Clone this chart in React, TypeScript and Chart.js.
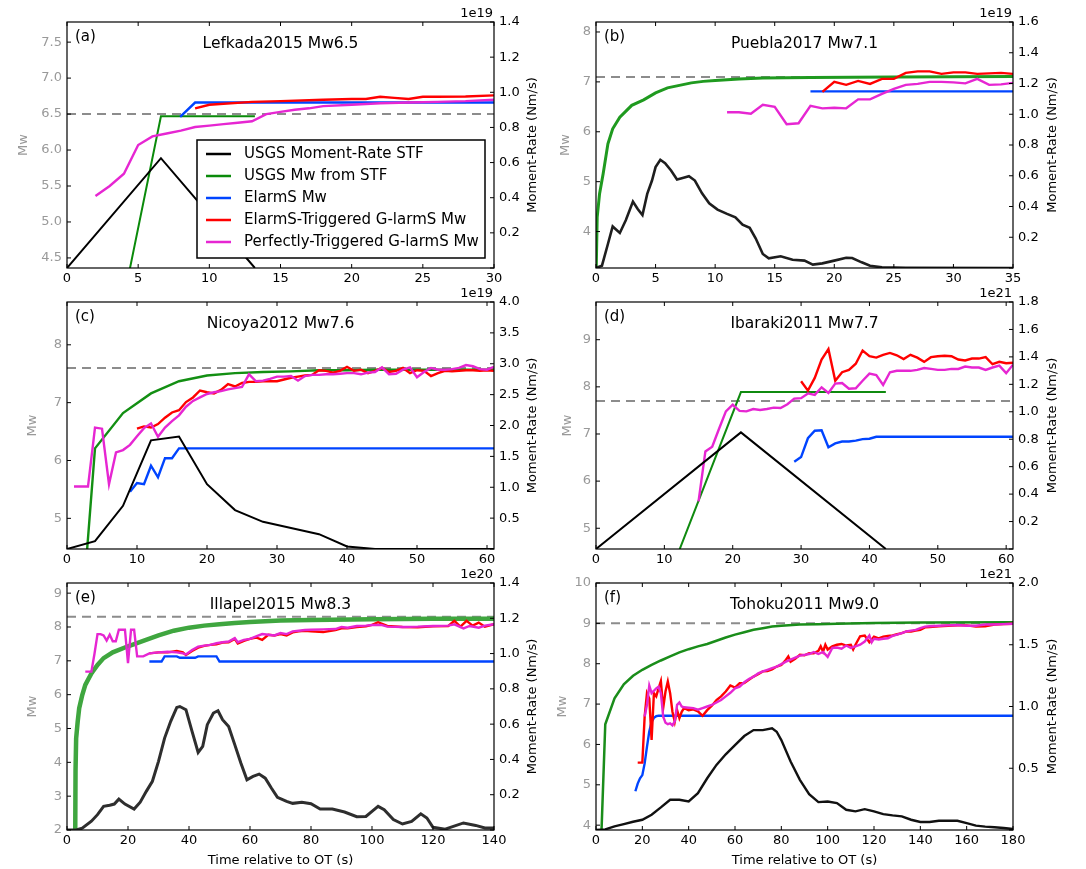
import React, { useEffect, useRef } from 'react';
import { Chart, registerables } from 'chart.js';
Chart.register(...registerables);

type Pt = [number, number];

const FONT = "'DejaVu Sans', 'Liberation Sans', sans-serif";

// ---------- labels ----------
const LEGEND_LABELS = [
  'USGS Moment-Rate STF',
  'USGS Mw from STF',
  'ElarmS Mw',
  'ElarmS-Triggered G-larmS Mw',
  'Perfectly-Triggered G-larmS Mw',
];
const TITLES = ['Lefkada2015 Mw6.5', 'Puebla2017 Mw7.1', 'Nicoya2012 Mw7.6', 'Ibaraki2011 Mw7.7', 'Illapel2015 Mw8.3', 'Tohoku2011 Mw9.0'];
const TAGS = ['(a)', '(b)', '(c)', '(d)', '(e)', '(f)'];
const EXPONENTS = ['1e19', '1e19', '1e19', '1e21', '1e20', '1e21'];
const REF_MW = [6.5, 7.1, 7.6, 7.7, 8.3, 9.0];
const X_MAX = [30, 35, 61, 61, 140, 180];
const X_STEP = [5, 5, 10, 10, 20, 20];
const MW_MIN = [4.36, 3.27, 4.47, 4.56, 2, 3.88];
const MW_MAX = [7.78, 8.2, 8.74, 9.8, 9.3, 10];
const MW_STEP = [0.5, 1, 1, 1, 1, 1];
const MW_DEC = [1, 0, 0, 0, 0, 0];
const RATE_MAX = [1.4, 1.6, 4.0, 1.8, 1.4, 2.0];
const RATE_STEP = [0.2, 0.2, 0.5, 0.2, 0.2, 0.5];

// ---------- (a) Lefkada ----------
const A_STF: Pt[] = [[0, 0], [6.6, 0.625], [13.2, 0]];
const A_USGS: Pt[] = [[0, 0.06], [6.6, 6.47], [13.2, 6.47]];
const A_ELARMS: Pt[] = [[7.95, 6.46], [9, 6.66], [30, 6.66]];
const A_GTRIG: Pt[] = [[9, 6.58], [10, 6.63], [13, 6.67], [15, 6.68], [18, 6.7], [20, 6.71], [21, 6.71], [22, 6.74], [23, 6.725], [24, 6.71], [25, 6.74], [26, 6.74], [28, 6.745], [30, 6.76]];
const A_GPERF: Pt[] = [[2, 5.36], [3, 5.5], [4, 5.67], [5, 6.07], [6, 6.19], [7, 6.23], [8, 6.27], [9, 6.32], [10, 6.34], [11, 6.36], [12, 6.38], [13, 6.4], [14, 6.5], [15, 6.53], [16, 6.56], [17, 6.58], [18, 6.61], [20, 6.63], [22, 6.65], [24, 6.66], [26, 6.67], [28, 6.68], [30, 6.7]];

// ---------- (b) Puebla ----------
const B_STF: Pt[] = [[0, 0], [0.5, 0.015], [1, 0.156], [1.4, 0.27], [2, 0.228], [2.5, 0.31], [3.1, 0.432], [3.5, 0.384], [3.9, 0.345], [4.3, 0.482], [4.7, 0.569], [5, 0.656], [5.4, 0.704], [5.8, 0.682], [6.3, 0.634], [6.8, 0.576], [7.2, 0.584], [7.8, 0.597], [8.3, 0.569], [8.9, 0.486], [9.5, 0.421], [10.2, 0.38], [11, 0.352], [11.7, 0.33], [12.3, 0.282], [12.9, 0.261], [13.4, 0.193], [14, 0.091], [14.5, 0.063], [15.5, 0.076], [16.5, 0.054], [17.5, 0.048], [18.2, 0.022], [19, 0.03], [20, 0.048], [21, 0.067], [21.5, 0.065], [22.3, 0.037], [23, 0.015], [24, 0.004], [26, 0.002], [35, 0]];
const B_USGS: Pt[] = [[0, 3.0], [0.1, 4.29], [0.3, 4.76], [0.6, 5.16], [1, 5.76], [1.4, 6.06], [2, 6.29], [3, 6.53], [4, 6.64], [5, 6.78], [6, 6.88], [7, 6.93], [8, 6.98], [9, 7.01], [10, 7.03], [12, 7.06], [14, 7.08], [18, 7.09], [25, 7.1], [35, 7.11]];
const B_ELARMS: Pt[] = [[18, 6.81], [35, 6.81]];
const B_GTRIG: Pt[] = [[19, 6.8], [20, 7.0], [21, 6.94], [22, 7.02], [23, 6.96], [24, 7.06], [25, 7.06], [26, 7.18], [27, 7.21], [28, 7.21], [29, 7.16], [30, 7.19], [31, 7.19], [32, 7.16], [33, 7.17], [34, 7.18], [35, 7.16]];
const B_GPERF: Pt[] = [[11, 6.39], [12, 6.39], [13, 6.36], [14, 6.54], [15, 6.5], [16, 6.15], [17, 6.17], [18, 6.52], [19, 6.47], [20, 6.48], [21, 6.47], [22, 6.65], [23, 6.65], [24, 6.76], [25, 6.86], [26, 6.94], [27, 6.96], [28, 7.0], [29, 7.0], [30, 6.99], [31, 6.97], [32, 7.06], [33, 6.94], [34, 6.95], [35, 6.98]];

// ---------- (c) Nicoya ----------
const C_STF: Pt[] = [[0, 0], [4, 0.126], [8, 0.7], [12, 1.76], [16, 1.82], [20, 1.05], [24, 0.63], [28, 0.44], [32, 0.34], [36, 0.24], [40, 0.04], [44, 0], [61, 0]];
const C_USGS: Pt[] = [[0, 0], [4, 6.21], [8, 6.82], [12, 7.16], [16, 7.37], [20, 7.47], [24, 7.51], [28, 7.53], [32, 7.54], [36, 7.56], [40, 7.56], [44, 7.57], [61, 7.57]];
const C_ELARMS: Pt[] = [[9, 5.46], [10, 5.61], [11, 5.59], [12, 5.91], [13, 5.71], [14, 6.04], [15, 6.04], [16, 6.21], [61, 6.21]];
const C_GTRIG: Pt[] = [[10, 6.55], [11, 6.59], [12, 6.57], [13, 6.63], [14, 6.74], [15, 6.83], [16, 6.87], [17, 7.01], [18, 7.09], [19, 7.21], [20, 7.18], [21, 7.16], [22, 7.22], [23, 7.32], [24, 7.28], [25, 7.34], [26, 7.36], [27, 7.36], [28, 7.37], [29, 7.37], [30, 7.37], [31, 7.4], [32, 7.43], [33, 7.45], [34, 7.47], [35, 7.48], [36, 7.56], [37, 7.55], [38, 7.52], [39, 7.55], [40, 7.62], [41, 7.55], [42, 7.57], [43, 7.51], [44, 7.55], [45, 7.6], [46, 7.53], [47, 7.55], [48, 7.6], [49, 7.51], [50, 7.56], [51, 7.55], [52, 7.46], [53, 7.51], [54, 7.55], [55, 7.54], [56, 7.55], [57, 7.56], [58, 7.56], [59, 7.55], [60, 7.56], [61, 7.55]];
const C_GPERF: Pt[] = [[1, 5.55], [2, 5.55], [3, 5.55], [4, 6.57], [5, 6.55], [6, 5.59], [7, 6.14], [8, 6.18], [9, 6.27], [10, 6.42], [11, 6.56], [12, 6.64], [13, 6.41], [14, 6.57], [15, 6.68], [16, 6.78], [17, 6.93], [18, 7.03], [19, 7.09], [20, 7.15], [21, 7.18], [22, 7.2], [23, 7.23], [24, 7.25], [25, 7.27], [26, 7.49], [27, 7.37], [28, 7.38], [29, 7.41], [30, 7.45], [31, 7.45], [32, 7.46], [33, 7.38], [34, 7.46], [35, 7.48], [36, 7.48], [37, 7.49], [38, 7.49], [39, 7.5], [40, 7.51], [41, 7.51], [42, 7.49], [43, 7.52], [44, 7.53], [45, 7.61], [46, 7.49], [47, 7.5], [48, 7.57], [49, 7.61], [50, 7.44], [51, 7.53], [52, 7.6], [53, 7.57], [54, 7.57], [55, 7.58], [56, 7.6], [57, 7.65], [58, 7.63], [59, 7.58], [60, 7.57], [61, 7.62]];

// ---------- (d) Ibaraki ----------
const D_STF: Pt[] = [[0, 0], [21.2, 0.85], [42.4, 0]];
const D_USGS: Pt[] = [[0, 0], [21.2, 7.89], [42.4, 7.89]];
const D_ELARMS: Pt[] = [[29, 6.41], [30, 6.51], [31, 6.91], [32, 7.07], [33, 7.08], [34, 6.72], [35, 6.8], [36, 6.84], [37, 6.84], [38, 6.86], [39, 6.89], [40, 6.9], [41, 6.94], [61, 6.94]];
const D_GTRIG: Pt[] = [[30, 8.12], [31, 7.92], [32, 8.19], [33, 8.58], [34, 8.8], [35, 8.13], [36, 8.31], [37, 8.36], [38, 8.49], [39, 8.77], [40, 8.65], [41, 8.62], [42, 8.68], [43, 8.72], [44, 8.67], [45, 8.59], [46, 8.68], [47, 8.62], [48, 8.53], [49, 8.63], [50, 8.65], [51, 8.66], [52, 8.65], [53, 8.58], [54, 8.56], [55, 8.6], [56, 8.6], [57, 8.63], [58, 8.48], [59, 8.53], [60, 8.5], [61, 8.51]];
const D_GPERF: Pt[] = [[15, 5.57], [16, 6.63], [17, 6.73], [18, 7.11], [19, 7.48], [20, 7.62], [21, 7.49], [22, 7.48], [23, 7.53], [24, 7.51], [25, 7.53], [26, 7.56], [27, 7.55], [28, 7.63], [29, 7.75], [30, 7.76], [31, 7.86], [32, 7.83], [33, 7.99], [34, 7.87], [35, 8.07], [36, 8.08], [37, 7.96], [38, 7.97], [39, 8.13], [40, 8.28], [41, 8.25], [42, 8.04], [43, 8.31], [44, 8.34], [45, 8.34], [46, 8.34], [47, 8.36], [48, 8.4], [49, 8.38], [50, 8.36], [51, 8.36], [52, 8.38], [53, 8.38], [54, 8.43], [55, 8.41], [56, 8.41], [57, 8.36], [58, 8.41], [59, 8.45], [60, 8.29], [61, 8.47]];

// ---------- (e) Illapel ----------
const E_STF: Pt[] = [[0, 0], [3, 0], [5, 0.01], [8, 0.05], [10, 0.087], [12, 0.134], [14, 0.14], [15.5, 0.147], [17, 0.175], [19, 0.147], [22, 0.119], [24, 0.158], [26, 0.219], [28, 0.276], [30, 0.389], [32, 0.521], [34, 0.616], [36, 0.695], [37, 0.7], [39, 0.682], [41, 0.559], [43, 0.44], [44.5, 0.474], [46, 0.597], [48, 0.663], [49.5, 0.676], [51, 0.625], [53, 0.587], [55, 0.484], [57, 0.38], [59, 0.285], [61, 0.304], [63, 0.317], [65, 0.294], [67, 0.238], [69, 0.185], [72, 0.162], [74, 0.151], [77, 0.157], [80, 0.149], [83, 0.119], [87, 0.119], [91, 0.102], [95, 0.075], [98, 0.077], [100, 0.106], [102, 0.134], [104, 0.115], [107, 0.059], [110, 0.034], [113, 0.049], [116, 0.092], [118, 0.068], [120, 0.015], [124, 0.005], [130, 0.04], [134, 0.026], [137, 0.011], [140, 0.011]];
const E_USGS: Pt[] = [[2.6, 0], [2.8, 3.77], [3, 4.71], [3.5, 5.2], [4, 5.6], [5, 5.99], [6, 6.29], [8, 6.63], [10, 6.88], [12, 7.08], [15, 7.25], [20, 7.43], [25, 7.59], [30, 7.75], [35, 7.89], [40, 7.98], [45, 8.04], [50, 8.08], [55, 8.12], [60, 8.15], [70, 8.19], [80, 8.21], [100, 8.23], [120, 8.24], [140, 8.24]];
const E_ELARMS: Pt[] = [[27, 6.98], [31, 6.98], [32, 7.13], [36, 7.13], [37, 7.09], [42, 7.09], [43, 7.13], [49, 7.13], [50, 6.98], [140, 6.98]];
const E_GTRIG: Pt[] = [[27, 7.22], [30, 7.25], [33, 7.25], [36, 7.29], [38, 7.25], [39, 7.17], [41, 7.29], [43, 7.39], [45, 7.44], [47, 7.47], [49, 7.49], [51, 7.54], [53, 7.55], [55, 7.65], [56, 7.51], [58, 7.59], [60, 7.65], [62, 7.69], [64, 7.62], [66, 7.77], [68, 7.75], [70, 7.79], [72, 7.75], [74, 7.84], [76, 7.87], [78, 7.89], [80, 7.87], [84, 7.85], [88, 7.91], [90, 7.96], [92, 7.96], [95, 8.0], [98, 8.02], [100, 8.06], [102, 8.14], [105, 8.03], [110, 8.0], [115, 7.99], [120, 8.02], [125, 8.03], [127, 8.18], [129, 8.01], [131, 8.18], [133, 8.04], [135, 8.13], [137, 8.01], [140, 8.08]];
const E_GPERF: Pt[] = [[6, 6.68], [8, 6.68], [9, 7.2], [10, 7.79], [11, 7.79], [12, 7.75], [13, 7.6], [14, 7.77], [15, 7.58], [16, 7.58], [17, 7.92], [19, 7.92], [20, 6.93], [21, 7.92], [22, 7.92], [23, 7.13], [25, 7.13], [27, 7.22], [30, 7.25], [33, 7.27], [36, 7.25], [38, 7.22], [39, 7.19], [41, 7.32], [43, 7.42], [45, 7.45], [47, 7.47], [49, 7.52], [51, 7.55], [53, 7.57], [55, 7.67], [56, 7.55], [58, 7.62], [60, 7.65], [62, 7.72], [64, 7.79], [66, 7.77], [68, 7.75], [70, 7.82], [72, 7.79], [74, 7.87], [76, 7.89], [78, 7.91], [80, 7.92], [84, 7.93], [88, 7.94], [90, 8.0], [92, 7.98], [95, 8.03], [98, 8.04], [100, 8.06], [103, 8.06], [105, 8.01], [110, 8.0], [115, 8.01], [120, 8.03], [125, 8.04], [127, 8.08], [130, 7.96], [132, 8.03], [135, 7.98], [137, 8.04], [140, 8.08]];

// ---------- (f) Tohoku ----------
const F_STF: Pt[] = [[0, 0], [4, 0.005], [8, 0.03], [12, 0.048], [16, 0.067], [20, 0.083], [24, 0.124], [28, 0.183], [32, 0.245], [36, 0.245], [40, 0.231], [44, 0.298], [48, 0.419], [52, 0.527], [56, 0.613], [60, 0.688], [64, 0.761], [68, 0.809], [72, 0.809], [76, 0.823], [78, 0.796], [80, 0.728], [84, 0.554], [88, 0.406], [92, 0.29], [96, 0.226], [100, 0.231], [104, 0.218], [108, 0.164], [112, 0.151], [116, 0.169], [120, 0.151], [124, 0.129], [128, 0.118], [132, 0.11], [136, 0.083], [140, 0.065], [144, 0.065], [148, 0.075], [152, 0.075], [156, 0.075], [160, 0.056], [164, 0.035], [168, 0.027], [172, 0.022], [176, 0.016], [180, 0.008]];
const F_USGS: Pt[] = [[0, 0], [4, 6.5], [8, 7.14], [12, 7.49], [16, 7.7], [20, 7.85], [24, 7.97], [28, 8.08], [32, 8.18], [36, 8.28], [40, 8.36], [44, 8.43], [48, 8.49], [52, 8.57], [56, 8.65], [60, 8.72], [64, 8.78], [68, 8.84], [72, 8.88], [76, 8.92], [80, 8.94], [88, 8.97], [96, 8.98], [104, 8.99], [120, 9.01], [140, 9.02], [180, 9.03]];
const F_ELARMS: Pt[] = [[17, 4.84], [18, 5.03], [19, 5.16], [20, 5.24], [21, 5.53], [22, 5.94], [23, 6.32], [24, 6.56], [25, 6.66], [26, 6.7], [27, 6.71], [180, 6.71]];
const F_GTRIG: Pt[] = [[18, 5.55], [20, 5.55], [21, 6.69], [22, 7.27], [23, 7.14], [24, 6.11], [25, 7.27], [26, 7.19], [27, 7.39], [28, 7.57], [29, 6.9], [30, 7.31], [31, 7.56], [32, 7.27], [33, 6.81], [34, 6.56], [35, 6.85], [36, 6.65], [37, 6.81], [38, 6.9], [40, 6.85], [42, 6.87], [44, 6.82], [46, 6.71], [48, 6.85], [50, 6.96], [52, 7.1], [54, 7.19], [56, 7.31], [58, 7.46], [60, 7.41], [62, 7.52], [64, 7.52], [66, 7.6], [68, 7.68], [70, 7.74], [72, 7.81], [74, 7.82], [76, 7.86], [78, 7.93], [80, 7.97], [82, 8.1], [83, 8.18], [84, 8.05], [86, 8.12], [88, 8.22], [90, 8.21], [92, 8.26], [94, 8.26], [96, 8.32], [97, 8.43], [98, 8.3], [99, 8.47], [100, 8.35], [102, 8.43], [104, 8.47], [106, 8.49], [108, 8.45], [110, 8.47], [111, 8.35], [112, 8.47], [114, 8.68], [116, 8.7], [118, 8.53], [120, 8.67], [122, 8.63], [124, 8.67], [126, 8.69], [128, 8.7], [130, 8.73], [132, 8.76], [134, 8.8], [136, 8.8], [138, 8.82], [140, 8.84], [142, 8.9], [144, 8.91], [148, 8.93], [152, 8.94], [156, 8.95], [160, 8.95], [164, 8.92], [168, 8.93], [172, 8.97], [176, 8.98], [180, 8.99]];
const F_GPERF: Pt[] = [[21, 6.69], [22, 6.98], [23, 7.46], [24, 7.27], [25, 7.33], [26, 7.39], [27, 7.43], [28, 7.27], [29, 6.69], [30, 6.54], [31, 6.5], [32, 6.52], [33, 6.47], [34, 6.57], [35, 6.98], [36, 7.04], [37, 6.94], [38, 6.92], [40, 6.91], [42, 6.9], [44, 6.86], [46, 6.9], [48, 6.94], [50, 6.98], [52, 7.04], [54, 7.1], [56, 7.19], [58, 7.28], [60, 7.39], [62, 7.43], [64, 7.54], [66, 7.62], [68, 7.68], [70, 7.76], [72, 7.81], [74, 7.85], [76, 7.89], [78, 7.93], [80, 7.99], [82, 8.05], [84, 8.1], [86, 8.15], [88, 8.2], [90, 8.22], [92, 8.24], [94, 8.29], [96, 8.24], [98, 8.29], [100, 8.17], [102, 8.39], [104, 8.4], [106, 8.37], [108, 8.45], [110, 8.39], [112, 8.43], [114, 8.47], [116, 8.55], [118, 8.7], [119, 8.53], [120, 8.62], [122, 8.6], [124, 8.62], [126, 8.63], [128, 8.69], [130, 8.72], [132, 8.76], [134, 8.8], [136, 8.82], [138, 8.84], [140, 8.88], [142, 8.92], [144, 8.93], [148, 8.94], [152, 8.95], [156, 8.96], [160, 8.94], [164, 8.94], [168, 8.97], [172, 8.97], [176, 8.98], [180, 8.99]];

const STF = [A_STF, B_STF, C_STF, D_STF, E_STF, F_STF];
const USGS = [A_USGS, B_USGS, C_USGS, D_USGS, E_USGS, F_USGS];
const ELARMS = [A_ELARMS, B_ELARMS, C_ELARMS, D_ELARMS, E_ELARMS, F_ELARMS];
const GTRIG = [A_GTRIG, B_GTRIG, C_GTRIG, D_GTRIG, E_GTRIG, F_GTRIG];
const GPERF = [A_GPERF, B_GPERF, C_GPERF, D_GPERF, E_GPERF, F_GPERF];

// ---------- styles / layout ----------
const C_BLUE = '#0044ff';
const C_RED = '#ff0000';
const C_MAG = '#e626d2';
const C_REF = '#8c8c8c';
const STF_COLOR = ['#000000', '#1e1e1e', '#000000', '#000000', '#2e2e2e', '#111111'];
const STF_WIDTH = [2, 2.6, 2, 2, 3, 2.4];
const USGS_COLOR = ['#0a8a0a', '#1f9a1f', '#138f13', '#0f8a0f', '#3fa63f', '#1a8d1a'];
const USGS_WIDTH = [2, 3, 2.4, 2, 4.5, 2.5];

const LAYOUT = [
  { left: 0, top: 0, w: 545, h: 285, lw: 67, rw: 51, pt: 22, xh: 17, mwOff: 43 },
  { left: 545, top: 0, w: 541, h: 285, lw: 51, rw: 73, pt: 22, xh: 17, mwOff: 30 },
  { left: 0, top: 285, w: 545, h: 280, lw: 67, rw: 51, pt: 17, xh: 16, mwOff: 34 },
  { left: 545, top: 285, w: 541, h: 280, lw: 51, rw: 73, pt: 17, xh: 16, mwOff: 28 },
  { left: 0, top: 565, w: 545, h: 304, lw: 67, rw: 51, pt: 18, xh: 39, mwOff: 34 },
  { left: 545, top: 565, w: 541, h: 304, lw: 51, rw: 73, pt: 18, xh: 39, mwOff: 33 },
];

function framePlugin(i: number) {
  return {
    id: 'frame' + i,
    afterDraw(chart: any) {
      const { ctx, chartArea: a } = chart;
      const xs = chart.scales.x;
      const yl = chart.scales.yL;
      const yr = chart.scales.yR;
      ctx.save();
      // legend (panel a)
      if (i === 0) {
        const bx = a.left + 130, by = a.top + 118, bw = 288, bh = 118;
        ctx.fillStyle = '#ffffff';
        ctx.fillRect(bx, by, bw, bh);
        ctx.strokeStyle = '#000';
        ctx.lineWidth = 1.5;
        ctx.strokeRect(bx, by, bw, bh);
        const cols = ['#000000', '#0a8a0a', C_BLUE, C_RED, C_MAG];
        ctx.font = `15px ${FONT}`;
        ctx.textBaseline = 'middle';
        ctx.textAlign = 'left';
        LEGEND_LABELS.forEach((lab, k) => {
          const y = by + 14 + k * 22;
          ctx.strokeStyle = cols[k];
          ctx.lineWidth = 2.5;
          ctx.beginPath();
          ctx.moveTo(bx + 9, y);
          ctx.lineTo(bx + 34, y);
          ctx.stroke();
          ctx.fillStyle = '#000';
          ctx.fillText(lab, bx + 47, y);
        });
      }
      // spines
      ctx.strokeStyle = '#000';
      ctx.lineWidth = 1.2;
      ctx.strokeRect(a.left, a.top, a.right - a.left, a.bottom - a.top);
      // inward ticks
      ctx.lineWidth = 1;
      ctx.beginPath();
      xs.ticks.forEach((t: any) => {
        const px = xs.getPixelForValue(t.value);
        ctx.moveTo(px, a.bottom); ctx.lineTo(px, a.bottom - 4);
        ctx.moveTo(px, a.top); ctx.lineTo(px, a.top + 4);
      });
      yl.ticks.forEach((t: any) => {
        const py = yl.getPixelForValue(t.value);
        ctx.moveTo(a.left, py); ctx.lineTo(a.left + 4, py);
      });
      yr.ticks.forEach((t: any) => {
        const py = yr.getPixelForValue(t.value);
        ctx.moveTo(a.right, py); ctx.lineTo(a.right - 4, py);
      });
      ctx.stroke();
      // texts
      const L = LAYOUT[i];
      const cx = (a.left + a.right) / 2;
      const cy = (a.top + a.bottom) / 2;
      ctx.fillStyle = '#000';
      ctx.textBaseline = 'middle';
      ctx.font = `15px ${FONT}`;
      ctx.textAlign = 'left';
      ctx.fillText(TAGS[i], a.left + 8, a.top + 15);
      ctx.font = `15.5px ${FONT}`;
      ctx.textAlign = 'center';
      ctx.fillText(TITLES[i], cx, a.top + 22);
      ctx.font = `13px ${FONT}`;
      ctx.textAlign = 'right';
      ctx.fillText(EXPONENTS[i], a.right - 1, a.top - 8);
      if (i >= 4) {
        ctx.textAlign = 'center';
        ctx.fillText('Time relative to OT (s)', cx, a.bottom + 31);
      }
      // axis titles
      ctx.save();
      ctx.translate(a.right + (i % 2 === 0 ? 39 : 40), cy);
      ctx.rotate(-Math.PI / 2);
      ctx.textAlign = 'center';
      ctx.fillStyle = '#000';
      ctx.fillText('Moment-Rate (Nm/s)', 0, 0);
      ctx.restore();
      ctx.save();
      ctx.translate(a.left - L.mwOff, cy);
      ctx.rotate(-Math.PI / 2);
      ctx.textAlign = 'center';
      ctx.fillStyle = '#999999';
      ctx.fillText('Mw', 0, 0);
      ctx.restore();
      ctx.restore();
    },
  };
}

function Panel({ i }: { i: number }) {
  const ref = useRef<HTMLCanvasElement>(null);
  const L = LAYOUT[i];
  useEffect(() => {
    const line = (data: Pt[], color: string, width: number, axis: string, extra: any = {}) => ({
      data,
      borderColor: color,
      backgroundColor: color,
      borderWidth: width,
      pointRadius: 0,
      tension: 0,
      fill: false,
      yAxisID: axis,
      ...extra,
    });
    const tickFont = { family: FONT, size: 13 };
    const chart = new Chart(ref.current as HTMLCanvasElement, {
      type: 'line',
      data: {
        datasets: [
          line(STF[i], STF_COLOR[i], STF_WIDTH[i], 'yR'),
          line(GPERF[i], C_MAG, 2.4, 'yL'),
          line(GTRIG[i], C_RED, 2.4, 'yL'),
          line(ELARMS[i], C_BLUE, 2.4, 'yL'),
          line(USGS[i], USGS_COLOR[i], USGS_WIDTH[i], 'yL'),
          line([[0, REF_MW[i]], [X_MAX[i], REF_MW[i]]], C_REF, 2, 'yL', { borderDash: [9, 6] }),
        ] as any,
      },
      options: {
        responsive: false,
        animation: false,
        events: [],
        layout: { padding: { top: L.pt, left: 0, right: 0, bottom: 0 } },
        plugins: { legend: { display: false }, tooltip: { enabled: false }, title: { display: false } },
        scales: {
          x: {
            type: 'linear',
            position: 'bottom',
            min: 0,
            max: X_MAX[i],
            grid: { display: false, drawTicks: false },
            border: { display: false },
            ticks: {
              stepSize: X_STEP[i],
              includeBounds: false,
              autoSkip: false,
              maxRotation: 0,
              padding: 3,
              color: '#000',
              font: tickFont,
              callback: (v: any) => String(v),
            },
            afterFit: (s: any) => { s.height = L.xh; },
          },
          yL: {
            type: 'linear',
            position: 'left',
            min: MW_MIN[i],
            max: MW_MAX[i],
            grid: { display: false, drawTicks: false },
            border: { display: false },
            ticks: {
              stepSize: MW_STEP[i],
              includeBounds: false,
              autoSkip: false,
              padding: 5,
              color: '#999999',
              font: tickFont,
              callback: (v: any) => Number(v).toFixed(MW_DEC[i]),
            },
            afterFit: (s: any) => { s.width = L.lw; },
          },
          yR: {
            type: 'linear',
            position: 'right',
            min: 0,
            max: RATE_MAX[i],
            grid: { display: false, drawTicks: false },
            border: { display: false },
            ticks: {
              stepSize: RATE_STEP[i],
              includeBounds: false,
              autoSkip: false,
              padding: 5,
              color: '#000',
              font: tickFont,
              callback: (v: any) => (Math.abs(Number(v)) < 1e-9 ? '' : Number(v).toFixed(1)),
            },
            afterFit: (s: any) => { s.width = L.rw; },
          },
        },
      } as any,
      plugins: [framePlugin(i)],
    });
    return () => chart.destroy();
  }, []);
  return (
    <canvas
      ref={ref}
      width={L.w}
      height={L.h}
      style={{ position: 'absolute', left: L.left, top: L.top, width: L.w, height: L.h }}
    />
  );
}

export default function App() {
  return (
    <div style={{ position: 'fixed', left: 0, top: 0, width: 1086, height: 869, background: '#ffffff', overflow: 'hidden' }}>
      {[0, 1, 2, 3, 4, 5].map((i) => (
        <Panel key={i} i={i} />
      ))}
    </div>
  );
}
